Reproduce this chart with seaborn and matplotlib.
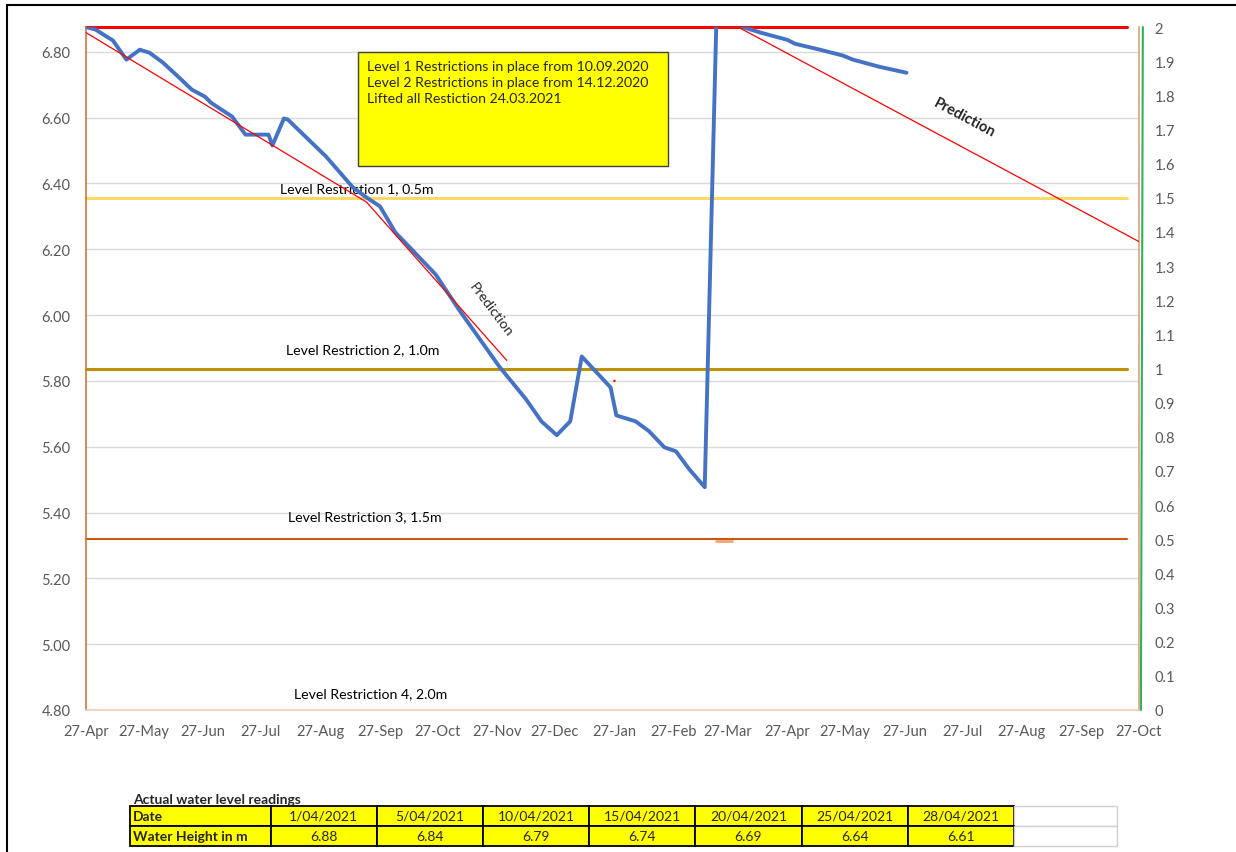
import numpy as np
import pandas as pd
import matplotlib
matplotlib.use("Agg")
import matplotlib.pyplot as plt
from matplotlib.patches import Rectangle
import matplotlib.ticker as mticker
import matplotlib.dates as mdates
import seaborn as sns

# water height readings (left axis, m)
reading_dates = ["2020-04-27", "2020-05-02", "2020-05-11", "2020-05-18", "2020-05-25",
                 "2020-05-30", "2020-06-06", "2020-06-14", "2020-06-21", "2020-06-28",
                 "2020-07-01", "2020-07-12", "2020-07-19", "2020-07-31", "2020-08-02",
                 "2020-08-08", "2020-08-10", "2020-08-30", "2020-09-13", "2020-09-20",
                 "2020-09-27", "2020-10-05", "2020-10-26", "2020-11-07", "2020-11-28",
                 "2020-12-12", "2020-12-20", "2020-12-28", "2021-01-04", "2021-01-10",
                 "2021-01-25", "2021-01-28", "2021-02-07", "2021-02-14", "2021-02-22",
                 "2021-02-28", "2021-03-07", "2021-03-15", "2021-03-21", "2021-04-01",
                 "2021-04-13", "2021-04-27", "2021-05-01", "2021-05-14", "2021-05-26",
                 "2021-05-31", "2021-06-14", "2021-06-28"]
reading_heights = [6.875, 6.867, 6.834, 6.776, 6.806,
                   6.797, 6.767, 6.724, 6.685, 6.663,
                   6.645, 6.603, 6.548, 6.548, 6.515,
                   6.597, 6.594, 6.481, 6.387, 6.357,
                   6.330, 6.251, 6.123, 6.017, 5.844,
                   5.744, 5.677, 5.635, 5.677, 5.874,
                   5.780, 5.695, 5.677, 5.647, 5.598,
                   5.586, 5.531, 5.477, 6.880, 6.880,
                   6.858, 6.836, 6.824, 6.806, 6.788,
                   6.776, 6.754, 6.736]

# trend lines
pred1_dates = ["2020-04-27", "2020-09-20", "2020-12-02"]
pred1_heights = [6.858, 6.343, 5.862]
pred2_dates = ["2021-04-01", "2021-10-27"]
pred2_heights = [6.876, 6.223]
stray_date = ["2021-01-27"]
stray_height = [5.80]

# restriction levels (right axis)
level_values = [2.0, 1.5, 1.0, 0.5]
level_colors = ["#FF0000", "#FFD966", "#BF9000", "#C55A11"]
level_widths = [2.2, 2.2, 2.2, 1.5]
level_span = ["2020-04-27", "2021-10-21"]
level3_blip_dates = ["2021-03-21", "2021-03-29"]
level3_blip_values = [0.495, 0.495]
green_dates = ["2021-10-28", "2021-10-29"]
green_values = [0.0, 2.0]

label_texts = ["Level Restriction 1, 0.5m", "Level Restriction 2, 1.0m",
               "Level Restriction 3, 1.5m", "Level Restriction 4, 2.0m"]
label_dates = ["2020-09-15", "2020-09-18", "2020-09-19", "2020-09-22"]
label_levels = [1.529, 1.056, 0.567, 0.050]

note_lines = ["Level 1 Restrictions in place from 10.09.2020",
              "Level 2 Restrictions in place from 14.12.2020",
              "Lifted all Restiction 24.03.2021"]

table_dates = ["1/04/2021", "5/04/2021", "10/04/2021", "15/04/2021",
               "20/04/2021", "25/04/2021", "28/04/2021"]
table_heights = ["6.88", "6.84", "6.79", "6.74", "6.69", "6.64", "6.61"]

sns.set_style("white")
plt.rcParams['font.family'] = ['Lato', 'DejaVu Sans']

fig = plt.figure(figsize=(12.36, 8.53), dpi=100)
ax = fig.add_axes([86/1236, 142/853, 1053/1236, 683/853])
ax2 = ax.twinx()
ax.set_zorder(ax2.get_zorder() + 1)
ax.patch.set_visible(False)

df = pd.DataFrame({"date": pd.to_datetime(reading_dates), "height": reading_heights})
sns.lineplot(data=df, x="date", y="height", ax=ax, color="#4472C4", lw=2.8, zorder=5)

sns.lineplot(x=pd.to_datetime(pred1_dates), y=pred1_heights, ax=ax, color="#FF0000", lw=0.9, zorder=6)
sns.lineplot(x=pd.to_datetime(pred2_dates), y=pred2_heights, ax=ax, color="#FF0000", lw=0.9, zorder=6)
sns.scatterplot(x=pd.to_datetime(stray_date), y=stray_height, ax=ax, color="#FF0000", s=3,
                edgecolor="none", zorder=6)

for val, col, lw in zip(level_values, level_colors, level_widths):
    sns.lineplot(x=pd.to_datetime(level_span), y=[val, val], ax=ax2, color=col, lw=lw)
    ax2.lines[-1].set_clip_on(False)
sns.lineplot(x=pd.to_datetime(level3_blip_dates), y=level3_blip_values, ax=ax2,
             color="#F4A46C", lw=2)
gl = sns.lineplot(x=pd.to_datetime(green_dates), y=green_values, ax=ax2,
                  color="#2DB35A", lw=1.5, sort=False)
gl.lines[-1].set_clip_on(False)

# axes limits and ticks
ax.set_xlim(pd.Timestamp("2020-04-27"), pd.Timestamp("2021-10-27"))
ax.set_ylim(4.80, 6.875)
ax2.set_ylim(0, 2)

xticks = [pd.Timestamp("2020-04-27") + pd.DateOffset(months=i) for i in range(19)]
ax.set_xticks(xticks)
ax.xaxis.set_major_formatter(mdates.DateFormatter("%d-%b"))
ax.set_yticks(np.round(np.arange(4.8, 6.81, 0.2), 2))
ax.yaxis.set_major_formatter(mticker.FormatStrFormatter("%.2f"))
ax2.set_yticks(np.round(np.arange(0, 2.01, 0.1), 1))
ax2.yaxis.set_major_formatter(mticker.FuncFormatter(lambda v, p: f"{v:g}"))

ax.tick_params(axis="x", length=4, color="#D9D9D9", labelsize=10.5, labelcolor="#595959", pad=6)
ax.tick_params(axis="y", length=0, labelsize=10.5, labelcolor="#595959", pad=11)
ax2.tick_params(axis="y", length=0, labelsize=10.5, labelcolor="#595959", pad=11)
ax.set_xlabel("")
ax.set_ylabel("")
ax2.set_ylabel("")
ax.grid(axis="y", color="#D9D9D9", lw=1)
ax.set_axisbelow(True)

for s in ax2.spines.values():
    s.set_visible(False)
ax.spines["top"].set_visible(False)
ax.spines["left"].set_color("#D0753A")
ax.spines["right"].set_color("#DFA27A")
ax.spines["bottom"].set_color("#F0CDB4")
for s in ["left", "right", "bottom"]:
    ax.spines[s].set_linewidth(1.2)

# annotations (placed on the front axes but in right-axis units)
for txt, d, lv in zip(label_texts, label_dates, label_levels):
    ax.text(mdates.date2num(pd.Timestamp(d)), lv, txt, transform=ax2.transData,
            ha="center", va="center", fontsize=10.2, color="black", zorder=4)

ax.text(pd.Timestamp("2020-11-24"), 6.017, "Prediction", rotation=-53, ha="center",
        va="center", fontsize=10.2)
ax.text(pd.Timestamp("2021-07-28"), 6.600, "Prediction", rotation=-28, ha="center",
        va="center", fontsize=10.5, fontweight="bold")

ax.add_patch(Rectangle((0.258, 0.796), 0.295, 0.167, transform=ax.transAxes,
                       facecolor="#FFFF00", edgecolor="#404040", lw=1, zorder=7))
ax.text(0.267, 0.951, "\n".join(note_lines), transform=ax.transAxes, ha="left", va="top",
        fontsize=10.2, linespacing=1.38, zorder=8)

# outer frame
fig.patches.append(Rectangle((7/1236, -0.1), 1.2, (847/853) + 0.1, transform=fig.transFigure,
                             fill=False, edgecolor="black", lw=1.5))

# readings table
fig.text(133/1236, 49/853, "Actual water level readings", fontsize=10, fontweight="bold")
tax = fig.add_axes([130/1236, 6/853, 987/1236, 40/853])
tax.axis("off")
cells = [["Date"] + table_dates + [""], ["Water Height in m"] + table_heights + [""]]
widths = [140.5] + [106.0] * 7 + [103.0]
tbl = tax.table(cellText=cells, colWidths=[w / sum(widths) for w in widths],
                bbox=[0, 0, 1, 1], cellLoc="center")
tbl.auto_set_font_size(False)
for (r, c), cell in tbl.get_celld().items():
    cell.set_fontsize(10)
    if c == 8:
        cell.set_facecolor("white")
        cell.set_edgecolor("#D0D0D0")
        cell.set_linewidth(1)
    else:
        cell.set_facecolor("#FFFF00")
        cell.set_edgecolor("black")
        cell.set_linewidth(1.3)
    if c == 0:
        cell.get_text().set_fontweight("bold")
        cell.get_text().set_ha("left")
        cell._loc = "left"
        cell.PAD = 0.02

fig.savefig("out.png", dpi=100)
